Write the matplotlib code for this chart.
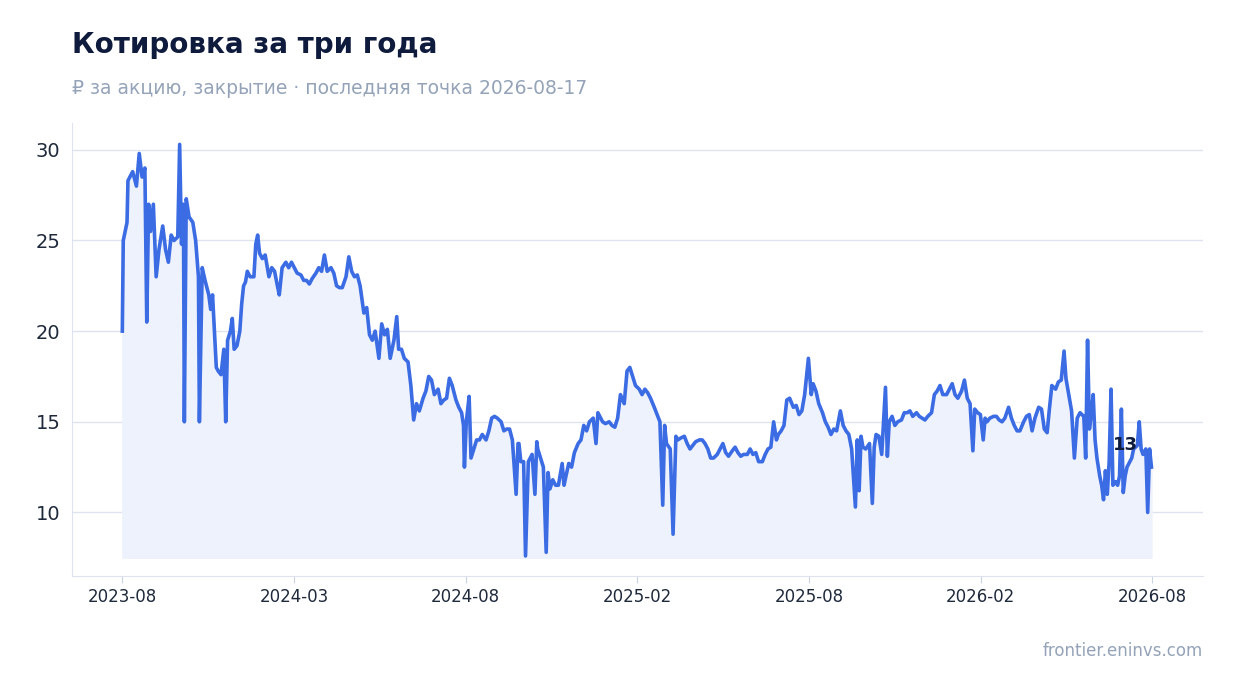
import matplotlib
matplotlib.use("Agg")
import matplotlib.pyplot as plt
import matplotlib.dates as mdates
import numpy as np
import pandas as pd

start = pd.Timestamp("2023-08-17")
end = pd.Timestamp("2026-08-17")
tick_labels = ["2023-08", "2024-03", "2024-08", "2025-02", "2025-08", "2026-02", "2026-08"]

# observation positions (chart units, 1029 units = 3 years) and closing prices
pos = [0,1,5,6,10,14,17,20,23,24,26,28,31,34,37,40,43,46,49,52,55,57,59,61,62,64,67,70,73,76,77,80,83,86,88,90,92,94,96,99,101,103,105,108,110,112,115,117,119,121,123,125,128,131,133,135,137,140,143,146,149,152,155,157,160,163,166,169,172,175,178,181,184,187,190,193,196,199,202,205,208,211,214,217,220,223,226,229,232,235,238,241,244,247,250,253,256,259,262,265,268,271,274,276,279,282,285,288,291,294,297,300,303,306,309,312,315,318,321,324,327,330,333,336,339,341,342,344,346,348,351,354,357,360,363,366,369,372,375,378,381,384,387,390,393,395,396,398,401,403,406,409,412,414,415,418,421,423,425,427,430,433,436,439,441,443,446,449,452,455,458,461,464,467,470,473,475,477,480,483,486,489,492,495,498,501,504,507,510,513,516,519,522,525,528,531,534,537,540,542,544,547,550,553,555,558,561,564,567,570,573,576,579,582,585,588,591,594,597,600,603,606,609,612,615,618,621,624,627,630,633,636,639,642,645,648,651,653,655,658,661,664,667,670,673,676,679,682,685,688,690,693,696,699,702,705,708,711,714,717,720,723,726,729,732,734,736,738,740,743,746,749,751,753,756,759,762,764,766,769,772,775,778,781,784,787,790,793,796,799,802,805,808,811,814,817,820,823,826,829,832,835,838,841,844,847,850,852,854,857,860,862,864,867,870,873,876,879,882,885,888,891,894,897,900,903,906,909,912,915,918,921,924,926,929,932,935,938,941,943,945,948,951,954,957,960,962,964,966,968,970,972,974,976,978,980,982,984,986,988,990,992,994,996,998,1000,1002,1004,1006,1008,1010,1012,1014,1016,1018,1020,1022,1024,1026,1028,1029]
price = [20,25,26,28.3,28.8,28,29.8,28.5,29,20.5,27,25.5,27,23,24.5,25.8,24.5,23.8,25.3,25,25.2,30.3,24.8,27,15,27.3,26.3,26,25,23,15,23.5,22.8,22,21.2,22,20,18,17.8,17.6,19,15,19.5,20,20.7,19,19.2,20,21.5,22.5,22.7,23.3,23,23,24.8,25.3,24.3,24,24.2,23,23.5,23.3,22.5,22,23.5,23.8,23.5,23.8,23.5,23.2,23.1,22.8,22.8,22.6,22.9,23.2,23.5,23.3,24.2,23.3,23.5,23.2,22.5,22.4,22.4,23,24.1,23.3,23,23.1,22.5,21,21.3,19.8,19.5,20,18.5,20.4,19.8,20.1,18.5,19.5,20.8,19,19,18.5,18.3,17,15.1,16,15.6,16.3,16.7,17.5,17.3,16.5,16.8,16,16.2,16.3,17.4,17,16.2,15.8,15.5,14.8,12.5,15,16.4,13,13.5,14,14,14.3,14,14.5,15.2,15.3,15.2,15,14.5,14.6,14.6,14,11,13.8,13.8,12.8,12.8,7.6,12.8,13.2,11,13.9,13.5,13,12.5,7.8,12.2,11.3,11.8,11.5,11.5,12.7,11.5,12,12.7,12.5,13.3,13.8,14,14.8,14.5,15,15.2,13.8,15.5,15.3,15,14.9,15,14.8,14.7,15.2,16.5,16,17.8,18,17.5,17,16.8,16.5,16.8,16.6,16.3,15.8,15.4,15,10.4,14.8,13.8,13.5,8.8,14.2,14,14.1,14.2,13.8,13.5,13.7,13.9,14,14,13.8,13.5,13,13,13.2,13.5,13.8,13.3,13.1,13.4,13.6,13.3,13.1,13.2,13.2,13.5,13.2,13.3,12.8,12.8,13.2,13.5,13.6,15,14,14.3,14.5,14.8,16.2,16.3,15.8,15.9,15.4,15.6,16.5,18.5,16.5,17.1,16.7,16,15.5,15,14.7,14.3,14.6,14.5,15.6,14.8,14.5,14.3,13.5,10.3,14,11.2,14.2,13.6,13.5,13.8,10.5,13.6,14.3,14.2,13.2,16.9,13.1,15,15.3,14.8,15,15.1,15.5,15.5,15.6,15.3,15.5,15.3,15.2,15.1,15.3,15.5,16.5,16.7,17,16.5,16.5,16.8,17.1,16.5,16.3,16.7,17.3,16.3,16,13.4,15.7,15.5,15.4,14,15.2,15,15.2,15.3,15.3,15.1,15,15.2,15.8,15.2,14.8,14.5,14.5,15,15.3,15.4,14.5,15.2,15.8,15.7,14.6,14.4,15.5,17,16.8,17.2,17.3,18.9,17.4,16.5,15.6,13,15.2,15.5,15.3,13,19.5,14.6,15.5,16.5,14,13,12,11.5,10.7,12.3,11,12.8,16.8,11.5,11.7,11.5,12,15.7,11.1,12,12.5,12.8,13,13.5,13.6,13.7,15,13.5,13.2,13.5,10,13.5,12.5]

n = min(len(pos), len(price))
pos, price = pos[:n], price[:n]
span = (end - start).days
dates = [start + pd.Timedelta(days=round(p * span / 1029)) for p in pos]

fig = plt.figure(figsize=(12.34, 6.93), dpi=100)
ax = fig.add_axes([0.058, 0.169, 0.917, 0.654])
line_c = "#3b6ce3"
ax.fill_between(dates, price, 7.5, color="#eef2fc", zorder=1)
ax.plot(dates, price, color=line_c, lw=2.6, zorder=3, solid_joinstyle="round")
ax.text(dates[-1] - pd.Timedelta(days=28), 13.2, "13", fontsize=13, fontweight="bold",
        color="#0f1b3d", ha="center", va="bottom", zorder=4)

ax.set_ylim(6.5, 31.5)
ax.set_yticks([10, 15, 20, 25, 30])
ax.set_xlim(start - pd.Timedelta(days=54), end + pd.Timedelta(days=54))
ticks = [start + (end - start) * i / 6 for i in range(7)]
ax.set_xticks(ticks)
ax.set_xticklabels(tick_labels)
ax.tick_params(axis="y", labelsize=14, colors="#1e293b", length=0, pad=8)
ax.tick_params(axis="x", labelsize=12, colors="#1e293b", length=5, color="#cbd5e1")
ax.grid(axis="y", color="#dfe3ef", lw=1)
ax.set_axisbelow(True)
for s in ["top", "right"]:
    ax.spines[s].set_visible(False)
for s in ["left", "bottom"]:
    ax.spines[s].set_color("#dfe3ef")

fig.text(0.058, 0.935, "Котировка за три года", fontsize=20, fontweight="bold", color="#0f1b3d", va="center")
fig.text(0.058, 0.873, "₽ за акцию, закрытие · последняя точка 2026-08-17", fontsize=13.5, color="#94a3b8", va="center")
fig.text(0.975, 0.06, "frontier.eninvs.com", fontsize=12, color="#94a3b8", ha="right", va="center")
fig.savefig("out.png", dpi=100)
